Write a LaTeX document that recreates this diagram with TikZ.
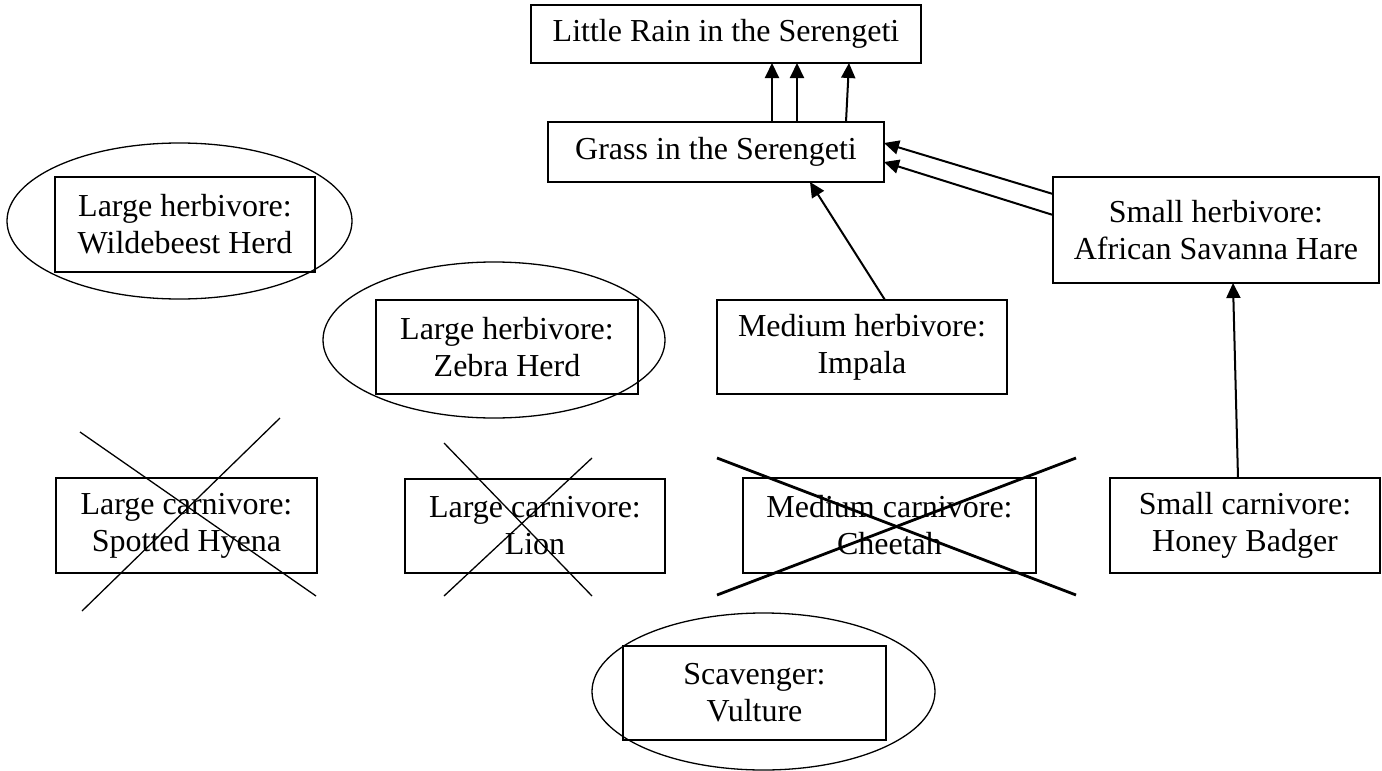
\documentclass[tikz,border=0pt]{standalone}
\usepackage{fontspec}
\setmainfont{Liberation Serif}
\usetikzlibrary{arrows.meta,shapes.geometric}

\begin{document}
\begin{tikzpicture}[x=1pt,y=-1pt,
  every node/.style={font=\fontsize{32}{37}\selectfont},
  box/.style={draw, line width=1.3pt, rectangle, inner sep=0pt, outer sep=0pt, align=center},
  ring/.style={draw, line width=1.3pt, ellipse, inner sep=0pt, outer sep=0pt},
  arr/.style={line width=2pt, -{Triangle[length=15pt,width=14pt]}},
  strike/.style={line width=1.3pt},
  boldstrike/.style={line width=2.8pt}]

\useasboundingbox (0,0) rectangle (1382,771);

% top level: rain and grass
\node[box, minimum width=390pt, minimum height=58pt] (rain) at (726,34) {Little Rain in the Serengeti};
\node[box, minimum width=336pt, minimum height=60pt] (grass) at (716,152) {Grass in the Serengeti};

% herbivores
\node[box, minimum width=260pt, minimum height=95pt] (wild) at (185,224.5) {Large herbivore:\\Wildebeest Herd};
\node[ring, minimum width=345pt, minimum height=156pt] (wildring) at (179.5,221) {};

\node[box, minimum width=262pt, minimum height=94pt] (zebra) at (507,347) {Large herbivore:\\Zebra Herd};
\node[ring, minimum width=342pt, minimum height=156pt] (zebraring) at (494,340) {};

\node[box, minimum width=290pt, minimum height=94pt] (impala) at (862,347) {Medium herbivore:\\Impala};
\node[box, minimum width=326pt, minimum height=106pt] (hare) at (1216,230) {Small herbivore:\\African Savanna Hare};

% carnivores
\node[box, minimum width=261pt, minimum height=95pt] (hyena) at (186.5,525.5) {Large carnivore:\\Spotted Hyena};
\node[box, minimum width=260pt, minimum height=94pt] (lion) at (535,526) {Large carnivore:\\Lion};
\node[box, minimum width=293pt, minimum height=95pt] (cheetah) at (889.5,525.5) {Medium carnivore:\\Cheetah};
\node[box, minimum width=270pt, minimum height=95pt] (badger) at (1245,525.5) {Small carnivore:\\Honey Badger};

% scavenger
\node[box, minimum width=263pt, minimum height=94pt] (vulture) at (754.5,693) {Scavenger:\\Vulture};
\node[ring, minimum width=343pt, minimum height=157pt] (vulturering) at (763.5,691.5) {};

% grass depends on rain
\draw[arr] ([xshift=56pt]grass.north) -- ([xshift=46pt]rain.south);
\draw[arr] ([xshift=81pt]grass.north) -- ([xshift=71pt]rain.south);
\draw[arr] ([xshift=130pt]grass.north) -- ([xshift=123pt]rain.south);

% herbivores eat grass
\draw[arr] ([yshift=36pt]hare.west) -- ([yshift=9pt]grass.east);
\draw[arr] ([yshift=15pt]hare.west) -- ([yshift=-10pt]grass.east);
\draw[arr] ([xshift=23pt]impala.north) -- ([xshift=94pt]grass.south);

% honey badger eats hare
\draw[arr] ([xshift=-7pt]badger.north) -- ([xshift=17pt]hare.south);

% crossed-out predators
\draw[strike] (80,432) -- (316,596);
\draw[strike] (280,418) -- (82,611);
\draw[strike] (444,443) -- (592,596);
\draw[strike] (592,458) -- (444,596);
\draw[boldstrike] (717,458) -- (1076,595);
\draw[boldstrike] (1076,458) -- (717,595);

\end{tikzpicture}
\end{document}
